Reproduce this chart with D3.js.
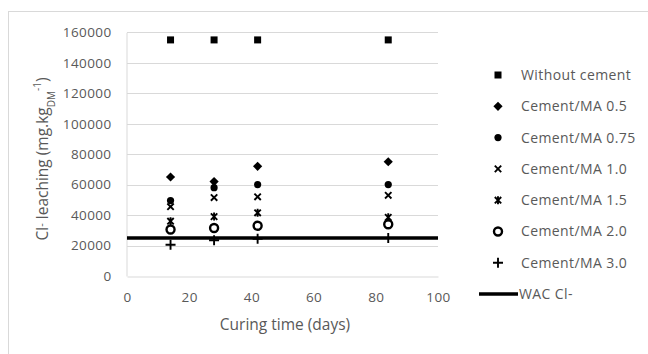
<!DOCTYPE html>
<html>
<head>
<meta charset="utf-8">
<script src="https://cdn.jsdelivr.net/npm/d3@7"></script>
<style>
  body { margin: 0; background: #fff; }
  svg text { font-family: 'Open Sans', sans-serif; fill: #595959; }
</style>
</head>
<body>
<div id="chart"></div>
<script>
const curingDays = [14, 28, 42, 84];
const withoutCement = [155000, 155000, 155000, 155000];
const cementMA05 = [65000, 62000, 72000, 75000];
const cementMA075 = [49500, 58000, 60000, 60000];
const cementMA10 = [45500, 51500, 52000, 53000];
const cementMA15 = [36000, 39000, 41500, 38500];
const cementMA20 = [30500, 31500, 33000, 34000];
const cementMA30 = [20500, 23500, 24500, 25000];
const wacDays = [0, 100];
const wacCl = [25000, 25000];
const xTicks = [0, 20, 40, 60, 80, 100];
const yTicks = [0, 20000, 40000, 60000, 80000, 100000, 120000, 140000, 160000];

const seriesList = [
  { name: 'Without cement', values: withoutCement, marker: 'square' },
  { name: 'Cement/MA 0.5', values: cementMA05, marker: 'diamond' },
  { name: 'Cement/MA 0.75', values: cementMA075, marker: 'circle' },
  { name: 'Cement/MA 1.0', values: cementMA10, marker: 'x' },
  { name: 'Cement/MA 1.5', values: cementMA15, marker: 'star' },
  { name: 'Cement/MA 2.0', values: cementMA20, marker: 'ring' },
  { name: 'Cement/MA 3.0', values: cementMA30, marker: 'plus' }
];

const width = 648, height = 354;
const plot = { left: 127, right: 438, top: 32.3, bottom: 276 };

const svg = d3.select('#chart')
  .append('svg')
    .attr('width', width)
    .attr('height', height);

// chart area border
svg.append('rect')
  .attr('x', 8.5).attr('y', 11.5)
  .attr('width', 700).attr('height', 400)
  .attr('fill', 'none')
  .attr('stroke', '#d9d9d9');

const xScale = d3.scaleLinear().domain([0, 100]).range([plot.left, plot.right]);
const yScale = d3.scaleLinear().domain([0, 160000]).range([plot.bottom, plot.top]);

// gridlines
svg.append('g')
  .selectAll('line')
  .data(yTicks.slice(1))
  .join('line')
    .attr('x1', plot.left).attr('x2', plot.right)
    .attr('y1', (d) => Math.round(yScale(d)) + 0.5)
    .attr('y2', (d) => Math.round(yScale(d)) + 0.5)
    .attr('stroke', '#d9d9d9');

const xAxis = svg.append('g')
  .attr('transform', `translate(0, ${Math.round(plot.bottom) + 0.5})`)
  .call(d3.axisBottom(xScale).tickValues(xTicks).tickSize(0).tickPadding(16));
xAxis.select('.domain').attr('stroke', '#d9d9d9');

const yAxis = svg.append('g')
  .attr('transform', `translate(${plot.left - 0.5}, 0)`)
  .call(d3.axisLeft(yScale).tickValues(yTicks).tickFormat(d3.format('d')).tickSize(0).tickPadding(15));
yAxis.select('.domain').attr('stroke', '#d9d9d9');

svg.selectAll('.tick text')
  .style('font-family', "'Open Sans', sans-serif")
  .style('font-size', '13.5px')
  .attr('fill', '#595959')
  .attr('letter-spacing', '0.4px');

// axis titles
svg.append('text')
  .attr('x', 285).attr('y', 330)
  .attr('text-anchor', 'middle')
  .style('font-size', '15.5px')
  .text('Curing time (days)');

const yTitle = svg.append('text')
  .attr('transform', 'translate(48, 159) rotate(-90)')
  .attr('text-anchor', 'middle')
  .style('font-size', '15.5px');
yTitle.append('tspan').text('Cl');
yTitle.append('tspan').attr('baseline-shift', '30%').style('font-size', '11px').text('-');
yTitle.append('tspan').text(' leaching (mg.kg');
yTitle.append('tspan').attr('baseline-shift', 'sub').style('font-size', '10px').text('DM');
yTitle.append('tspan').attr('baseline-shift', 'super').style('font-size', '10px').text('-1');
yTitle.append('tspan').text(')');

// WAC line
const wacLine = d3.line()
  .x((d, i) => xScale(wacDays[i]))
  .y((d) => yScale(d));

svg.append('path')
  .datum(wacCl)
  .attr('fill', 'none')
  .attr('stroke', '#000')
  .attr('stroke-width', 3.5)
  .attr('d', wacLine);

function drawMarker(g, type) {
  if (type === 'square') {
    g.append('rect').attr('x', -3.5).attr('y', -3.5).attr('width', 7).attr('height', 7).attr('fill', '#000');
  } else if (type === 'diamond') {
    g.append('path').attr('d', 'M0,-4.6L4.6,0L0,4.6L-4.6,0Z').attr('fill', '#000');
  } else if (type === 'circle') {
    g.append('circle').attr('r', 3.6).attr('fill', '#000');
  } else if (type === 'x') {
    g.append('path').attr('d', 'M-3.2,-3.2L3.2,3.2M-3.2,3.2L3.2,-3.2')
      .attr('stroke', '#000').attr('stroke-width', 1.9);
  } else if (type === 'star') {
    g.append('path').attr('d', 'M-3.2,-3.2L3.2,3.2M-3.2,3.2L3.2,-3.2M0,-4L0,4')
      .attr('stroke', '#000').attr('stroke-width', 1.9);
  } else if (type === 'ring') {
    g.append('circle').attr('r', 4).attr('fill', 'none')
      .attr('stroke', '#000').attr('stroke-width', 2.4);
  } else if (type === 'plus') {
    g.append('path').attr('d', 'M-5,0L5,0M0,-5L0,5')
      .attr('stroke', '#000').attr('stroke-width', 1.9);
  }
}

// points
seriesList.forEach((s) => {
  svg.append('g')
    .selectAll('g')
    .data(s.values)
    .join('g')
      .attr('transform', (d, i) => `translate(${xScale(curingDays[i])}, ${yScale(d)})`)
      .each(function () { drawMarker(d3.select(this), s.marker); });
});

// legend
const legend = svg.append('g');
const rowY = (i) => 75 + i * 31.3;
seriesList.forEach((s, i) => {
  const row = legend.append('g').attr('transform', `translate(498, ${rowY(i)})`);
  drawMarker(row, s.marker);
  row.append('text')
    .attr('x', 23).attr('dy', '0.35em')
    .style('font-size', '14px')
    .attr('letter-spacing', '0.4px')
    .text(s.name);
});
const wacRow = legend.append('g').attr('transform', `translate(0, ${rowY(7)})`);
wacRow.append('line')
  .attr('x1', 479).attr('x2', 518)
  .attr('stroke', '#000').attr('stroke-width', 3.5);
wacRow.append('text')
  .attr('x', 519).attr('dy', '0.35em')
  .style('font-size', '14px')
  .attr('letter-spacing', '0.4px')
  .text('WAC Cl-');
</script>
</body>
</html>
